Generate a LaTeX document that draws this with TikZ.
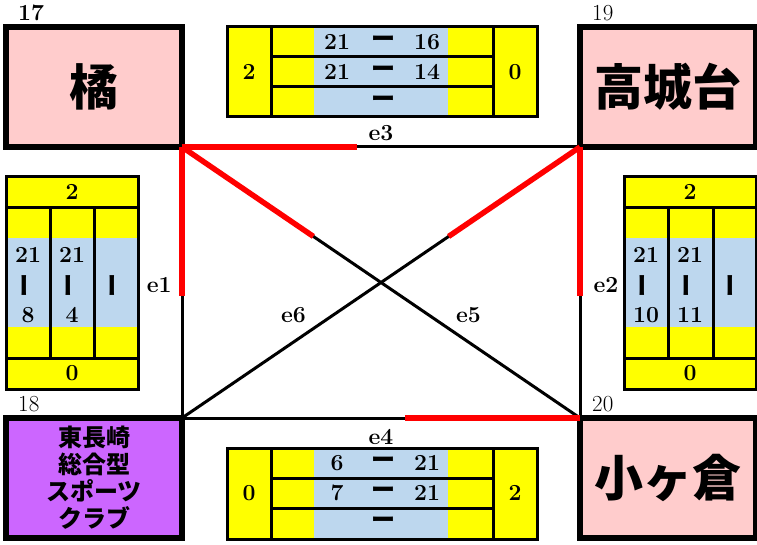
\documentclass[tikz,border=0pt]{standalone}
\usepackage{fontspec}
\newfontfamily\jpfont{Noto Sans CJK JP}
\usepackage{tikz}
\usetikzlibrary{positioning,calc}

\definecolor{teampink}{HTML}{FFCCCC}
\definecolor{teampurple}{HTML}{CC66FF}
\definecolor{scoreyellow}{HTML}{FFFF00}
\definecolor{scoreblue}{HTML}{BDD7EE}

\begin{document}
\begin{tikzpicture}[
    x=1pt, y=-1pt,
    team/.style={rectangle, draw=black, line width=6pt, minimum width=176pt, minimum height=120pt, inner sep=0pt, outer sep=0pt, align=center, font=\jpfont\bfseries\fontsize{49}{52}\selectfont},
    cornernum/.style={inner sep=0pt, anchor=south west, font=\fontsize{23}{26}\selectfont},
    scoregrid/.style={draw=black, line width=3pt},
    score/.style={inner sep=0pt, font=\bfseries\fontsize{23}{26}\selectfont},
    scoredash/.style={inner sep=0pt, font=\jpfont\bfseries\fontsize{24}{26}\selectfont},
    scorevdash/.style={scoredash, rotate=90},
    edge/.style={draw=black, line width=3pt},
    won/.style={draw=red, line width=5.5pt},
    elabel/.style={inner sep=2pt, font=\bfseries\fontsize{23}{26}\selectfont}
]
\useasboundingbox (0,0) rectangle (757,545);

% Teams
\node[team, fill=teampink] (t17) at (94,87) {橘};
\node[team, fill=teampink] (t19) at (668,87) {高城台};
\node[team, fill=teampurple, font=\jpfont\bfseries\fontsize{24}{27}\selectfont] (t18) at (94,478) {東長崎\\総合型\\スポーツ\\クラブ};
\node[team, fill=teampink] (t20) at (668,478) {小ヶ倉};

\node[cornernum, font=\bfseries\fontsize{23}{26}\selectfont] (n17) at ([xshift=12pt, yshift=6pt]t17.north west) {17};
\node[cornernum] (n19) at ([xshift=12pt, yshift=6pt]t19.north west) {19};
\node[cornernum] (n18) at ([xshift=12pt, yshift=6pt]t18.north west) {18};
\node[cornernum] (n20) at ([xshift=12pt, yshift=6pt]t20.north west) {20};

% Score e3 (top)
\fill[scoreyellow] (227,27) rectangle (537,117);
\fill[scoreblue] (314,27) rectangle (448,117);
\draw[scoregrid] (227,27) rectangle (537,117) (271,27) -- (271,117) (493,27) -- (493,117) (271,57) -- (493,57) (271,87) -- (493,87);
\node[score] (s3l) at (249,72) {2};
\node[score] (s3r) at (515,72) {0};
\node[score] (s3a1) at (337,42) {21}; \node[scoredash] (s3d1) at (383,42) {ー}; \node[score] (s3b1) at (427,42) {16};
\node[score] (s3a2) at (337,72) {21}; \node[scoredash] (s3d2) at (383,72) {ー}; \node[score] (s3b2) at (427,72) {14};
\node[scoredash] (s3d3) at (383,102) {ー};

% Score e4 (bottom)
\fill[scoreyellow] (227,448) rectangle (537,539);
\fill[scoreblue] (314,448) rectangle (448,539);
\draw[scoregrid] (227,448) rectangle (537,539) (271,448) -- (271,539) (493,448) -- (493,539) (271,478) -- (493,478) (271,508) -- (493,508);
\node[score] (s4l) at (249,493) {0};
\node[score] (s4r) at (515,493) {2};
\node[score] (s4a1) at (337,463) {6}; \node[scoredash] (s4d1) at (383,463) {ー}; \node[score] (s4b1) at (427,463) {21};
\node[score] (s4a2) at (337,493) {7}; \node[scoredash] (s4d2) at (383,493) {ー}; \node[score] (s4b2) at (427,493) {21};
\node[scoredash] (s4d3) at (383,523) {ー};

% Score e1 (left)
\fill[scoreyellow] (6,177) rectangle (138,389);
\fill[scoreblue] (6,238) rectangle (138,327);
\draw[scoregrid] (6,177) rectangle (138,389) (6,208) -- (138,208) (6,358) -- (138,358) (50,208) -- (50,358) (94,208) -- (94,358);
\node[score] (s1t) at (72,192) {2};
\node[score] (s1b) at (72,373) {0};
\node[score] (s1a1) at (28,255) {21}; \node[scorevdash] (s1d1) at (28,285) {ー}; \node[score] (s1b1) at (28,315) {8};
\node[score] (s1a2) at (72,255) {21}; \node[scorevdash] (s1d2) at (72,285) {ー}; \node[score] (s1b2) at (72,315) {4};
\node[scorevdash] (s1d3) at (116,285) {ー};

% Score e2 (right)
\fill[scoreyellow] (624,177) rectangle (756,389);
\fill[scoreblue] (624,238) rectangle (756,327);
\draw[scoregrid] (624,177) rectangle (756,389) (624,208) -- (756,208) (624,358) -- (756,358) (668,208) -- (668,358) (713,208) -- (713,358);
\node[score] (s2t) at (690,192) {2};
\node[score] (s2b) at (690,373) {0};
\node[score] (s2a1) at (646,255) {21}; \node[scorevdash] (s2d1) at (646,285) {ー}; \node[score] (s2b1) at (646,315) {10};
\node[score] (s2a2) at (690,255) {21}; \node[scorevdash] (s2d2) at (690,285) {ー}; \node[score] (s2b2) at (690,315) {11};
\node[scorevdash] (s2d3) at (734,285) {ー};

% Edges
\draw[edge] (t17.south east) -- node[elabel, above=3pt] (e3) {e3} (t19.south west);
\draw[edge] (t18.north east) -- node[elabel, below=8pt] (e4) {e4} (t20.north west);
\draw[edge] (t17.south east) -- node[elabel, left=7pt, yshift=-3pt] (e1) {e1} (t18.north east);
\draw[edge] (t19.south west) -- node[elabel, right=10pt, yshift=-3pt] (e2) {e2} (t20.north west);
\draw[edge] (t17.south east) -- node[elabel, pos=0.72, yshift=27pt] (e5) {e5} (t20.north west);
\draw[edge] (t18.north east) -- node[elabel, pos=0.28, yshift=27pt] (e6) {e6} (t19.south west);

% Winning parts
\draw[won] (t17.south east) -- ($(t17.south east)!0.44!(t19.south west)$);
\draw[won] (t17.south east) -- ($(t17.south east)!0.55!(t18.north east)$);
\draw[won] (t19.south west) -- ($(t19.south west)!0.55!(t20.north west)$);
\draw[won] (t20.north west) -- ($(t20.north west)!0.44!(t18.north east)$);
\draw[won] (t17.south east) -- ($(t17.south east)!0.33!(t20.north west)$);
\draw[won] (t19.south west) -- ($(t19.south west)!0.33!(t18.north east)$);

\end{tikzpicture}
\end{document}
